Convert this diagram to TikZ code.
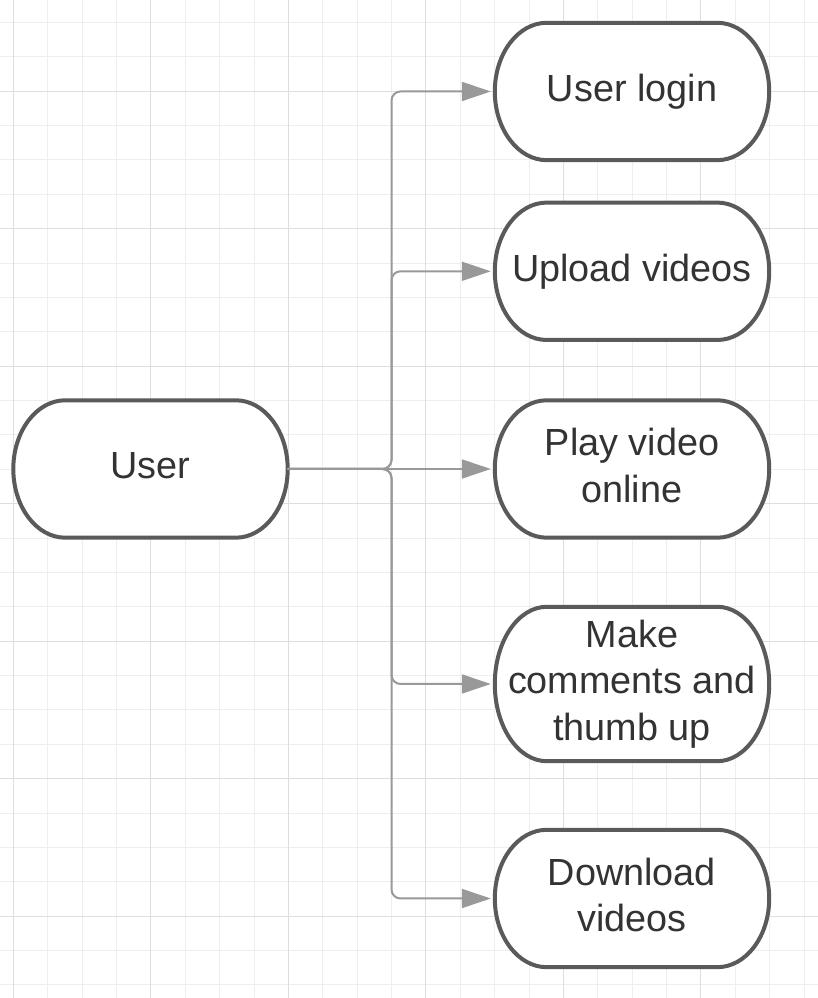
\documentclass[tikz,border=0pt]{standalone}
\usepackage{fontspec}
\setmainfont{Liberation Sans}
\usetikzlibrary{arrows.meta,calc}
\pgfdeclarelayer{bg}
\pgfsetlayers{bg,main}
\definecolor{gminorc}{HTML}{EEEEEE}
\definecolor{gmajorc}{HTML}{DEDEDE}
\definecolor{connc}{HTML}{999999}
\definecolor{borderc}{HTML}{5A5A5A}
\definecolor{txtc}{HTML}{333333}
\newcommand\tstrut{\vrule width 0pt height 30pt depth 10pt\relax}
\newcommand\termshape[1]{%
  \path[termline] let \p1=(#1.north west), \p2=(#1.south east), \n1={(\y1-\y2)/2} in
    (\x1+52pt,\y1) -- (\x2-52pt,\y1)
    arc[start angle=90, end angle=-90, x radius=52pt, y radius=\n1]
    -- (\x1+52pt,\y2)
    arc[start angle=270, end angle=90, x radius=52pt, y radius=\n1] -- cycle;}
\tikzset{
  term/.style={rectangle, inner sep=0pt, minimum width=274pt, minimum height=137pt,
    text=txtc, align=center, font=\fontsize{37.8pt}{46.5pt}\selectfont},
  conn/.style={draw=connc, line width=2pt, rounded corners=9pt,
    -{Triangle[length=29pt,width=19pt]}, shorten >=4pt},
  termline/.style={draw=borderc, line width=4pt, fill=white},
  gminor/.style={draw=gminorc, line width=1pt},
  gmajor/.style={draw=gmajorc, line width=1pt}
}
\begin{document}
\begin{tikzpicture}[x=1pt,y=1pt]
\useasboundingbox (0,0) rectangle (818,998);
% nodes
\node[term] (user) at (150.5,529) {\tstrut User};
\node[term] (login) at (632,906.5) {\tstrut User login};
\node[term] (upload) at (632,726.7) {\tstrut Upload videos};
\node[term] (play) at (632,529) {\tstrut Play video\\online\tstrut};
\node[term, minimum height=154pt] (make) at (632,314) {\tstrut Make\\comments and\\thumb up\tstrut};
\node[term] (down) at (632,99.5) {\tstrut Download\\videos\tstrut};
\begin{pgfonlayer}{bg}
  \fill[white] (0,0) rectangle (818,998);
  \foreach \k in {0,...,23} \draw[gminor] ({13.4+\k*34.375},0) -- ++(0,998);
  \foreach \k in {0,...,28} \draw[gminor] (0,{998-22.5-\k*34.375}) -- ++(818,0);
  \foreach \k in {0,...,5} \draw[gmajor] ({13.4+\k*137.5},0) -- ++(0,998);
  \foreach \k in {0,...,6} \draw[gmajor] (0,{998-91.25-\k*137.5}) -- ++(818,0);
  \termshape{user}
  \termshape{login}
  \termshape{upload}
  \termshape{play}
  \termshape{make}
  \termshape{down}
\end{pgfonlayer}
% connectors
\coordinate (hub) at (391.5,529);
\draw[conn] (user.east) -- (hub) |- (login.west);
\draw[conn] (user.east) -- (hub) |- (upload.west);
\draw[conn] (user.east) -- (play.west);
\draw[conn] (user.east) -- (hub) |- (make.west);
\draw[conn] (user.east) -- (hub) |- (down.west);
\end{tikzpicture}
\end{document}
